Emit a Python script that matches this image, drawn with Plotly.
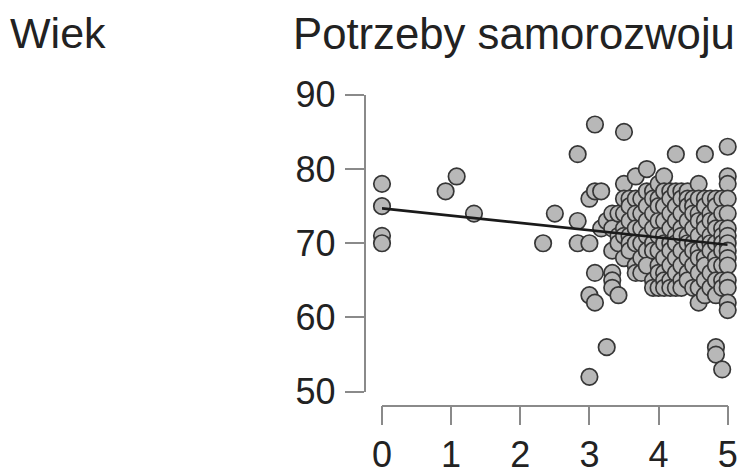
import plotly.graph_objects as go

# Potrzeby samorozwoju (x) grouped by column, with the ages (Wiek) at that score
scores = [0, 0.92, 1.08, 1.33, 2.33, 2.5, 2.83, 3.0, 3.08, 3.17, 3.25, 3.33,
          3.42, 3.5, 3.58, 3.67, 3.75, 3.83, 3.92, 4.0, 4.08, 4.17, 4.25,
          4.33, 4.42, 4.5, 4.58, 4.67, 4.75, 4.83, 4.92, 5.0]
ages = [
    [78, 75, 71, 70],
    [77],
    [79],
    [74],
    [70],
    [74],
    [82, 73, 70],
    [76, 70, 63, 52],
    [86, 77, 66, 62],
    [77, 72],
    [73, 56],
    [74, 72, 69, 66, 65, 64],
    [74, 71, 70, 63],
    [85, 78, 76, 74, 72, 71, 68],
    [76, 75, 73, 71, 70, 69],
    [79, 76, 74, 72, 70, 67, 66],
    [76, 74, 72, 70, 68, 66],
    [80, 77, 75, 73, 71, 69, 67],
    [77, 76, 74, 72, 70, 69, 65, 64],
    [78, 76, 75, 73, 71, 69, 67, 66, 64],
    [79, 77, 75, 73, 71, 70, 68, 66, 65, 64],
    [77, 76, 74, 72, 70, 69, 67, 65, 64],
    [82, 77, 75, 73, 71, 70, 68, 66, 64],
    [77, 76, 74, 72, 71, 69, 67, 65, 64],
    [77, 76, 75, 73, 71, 70, 68, 66, 65],
    [76, 75, 74, 72, 70, 69, 67, 64],
    [78, 76, 74, 73, 71, 69, 68, 66, 64, 62],
    [82, 76, 75, 73, 72, 70, 68, 67, 65, 63],
    [76, 74, 73, 71, 70, 69, 66, 64],
    [76, 75, 73, 72, 70, 68, 67, 65, 63, 56, 55],
    [76, 74, 72, 71, 70, 69, 67, 65, 64, 53],
    [83, 79, 78, 76, 74, 72, 71, 70, 69, 68, 67, 65, 64, 62, 61],
]

# regression line end points
fit_x = [0, 5]
fit_y = [74.7, 69.8]

x_ticks = [0, 1, 2, 3, 4, 5]
y_ticks = [50, 60, 70, 80, 90]

xs, ys = [], []
for s, col in zip(scores, ages):
    for a in col:
        xs.append(s)
        ys.append(a)

W, H = 741, 470
font = "Liberation Sans, Arial, sans-serif"
axis_grey = "#8a8a8a"

fig = go.Figure()
fig.add_trace(go.Scatter(
    x=xs, y=ys, mode="markers", cliponaxis=False,
    marker=dict(size=16.5, color="#b8b8b8",
                line=dict(color="#363636", width=1.7)),
))
fig.add_trace(go.Scatter(
    x=fit_x, y=fit_y, mode="lines", cliponaxis=False,
    line=dict(color="#1a1a1a", width=2.6),
))

fig.update_layout(
    width=W, height=H,
    margin=dict(l=0, r=0, t=0, b=0, autoexpand=False),
    paper_bgcolor="white", plot_bgcolor="white",
    showlegend=False,
    font=dict(family=font, color="#222222", size=36),
    xaxis=dict(
        domain=[382 / W, 727.7 / W], range=[0, 5],
        anchor="free", position=(H - 405.5) / H,
        showgrid=False, zeroline=False,
        showline=True, linecolor=axis_grey, linewidth=1.5,
        ticks="outside", ticklen=19, tickwidth=1.5, tickcolor=axis_grey,
        tickvals=x_ticks, ticklabelstandoff=-1,
    ),
    yaxis=dict(
        domain=[(H - 391.7) / H, (H - 94.8) / H], range=[50, 90],
        anchor="free", position=364.5 / W,
        showgrid=False, zeroline=False,
        showline=True, linecolor=axis_grey, linewidth=1.5,
        ticks="outside", ticklen=19, tickwidth=1.5, tickcolor=axis_grey,
        tickvals=y_ticks, ticklabelstandoff=2,
    ),
    annotations=[
        dict(text="Wiek", xref="paper", yref="paper",
             x=8 / W, y=(H - 33) / H, xanchor="left", yanchor="middle",
             showarrow=False, font=dict(size=43)),
        dict(text="Potrzeby samorozwoju", xref="paper", yref="paper",
             x=737 / W, y=(H - 33) / H, xanchor="right", yanchor="middle",
             showarrow=False, font=dict(size=43.7)),
    ],
)

fig.write_html("out.html", config={"displayModeBar": False},
               post_script="document.body.style.margin='0';")
